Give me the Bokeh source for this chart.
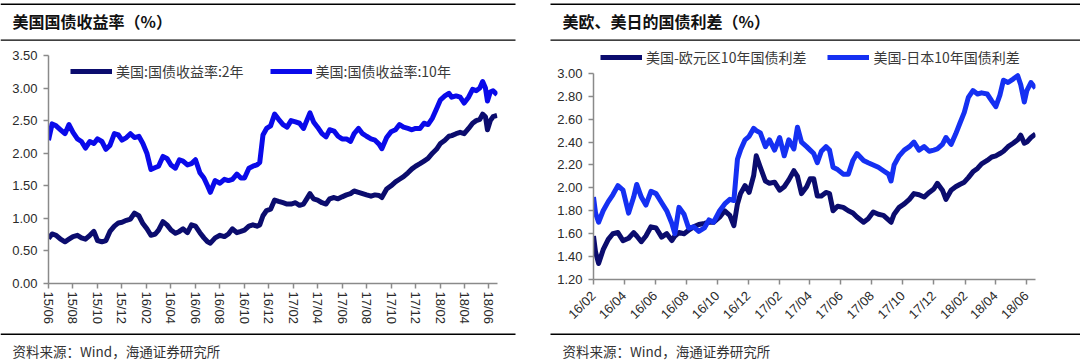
from datetime import datetime
from bokeh.plotting import figure
from bokeh.models import (ColumnDataSource, Range1d, FixedTicker, DatetimeTickFormatter,
                          NumeralTickFormatter)
from bokeh.core.properties import value
from bokeh.layouts import row, column
from bokeh.embed import file_html
from bokeh.resources import INLINE

CJK = "Noto Sans CJK SC"
NUM = "Liberation Sans"

# ---------------- left panel data: US Treasury yields ----------------
left_title = "美国国债收益率（%）"
left_names = ["美国:国债收益率:2年", "美国:国债收益率:10年"]
left_dates = [
    "2015-06-01", "2015-06-10", "2015-06-20", "2015-07-01", "2015-07-12", "2015-07-22",
    "2015-08-01", "2015-08-12", "2015-08-22", "2015-09-01", "2015-09-12", "2015-09-22",
    "2015-10-01", "2015-10-12", "2015-10-22", "2015-11-01", "2015-11-12", "2015-11-22",
    "2015-12-01", "2015-12-12", "2015-12-22", "2016-01-01", "2016-01-12", "2016-01-22",
    "2016-02-01", "2016-02-11", "2016-02-22", "2016-03-01", "2016-03-12", "2016-03-22",
    "2016-04-01", "2016-04-12", "2016-04-22", "2016-05-01", "2016-05-12", "2016-05-22",
    "2016-06-01", "2016-06-12", "2016-06-22", "2016-07-01", "2016-07-08", "2016-07-20",
    "2016-08-01", "2016-08-12", "2016-08-22", "2016-09-01", "2016-09-12", "2016-09-22",
    "2016-10-01", "2016-10-12", "2016-10-22", "2016-11-01", "2016-11-08", "2016-11-16",
    "2016-11-25", "2016-12-05", "2016-12-15", "2016-12-25", "2017-01-05", "2017-01-15",
    "2017-01-25", "2017-02-05", "2017-02-15", "2017-02-25", "2017-03-05", "2017-03-13",
    "2017-03-22", "2017-04-01", "2017-04-12", "2017-04-22", "2017-05-01", "2017-05-12",
    "2017-05-22", "2017-06-01", "2017-06-12", "2017-06-22", "2017-07-01", "2017-07-12",
    "2017-07-22", "2017-08-01", "2017-08-12", "2017-08-22", "2017-09-01", "2017-09-08",
    "2017-09-20", "2017-10-01", "2017-10-12", "2017-10-22", "2017-11-01", "2017-11-12",
    "2017-11-22", "2017-12-01", "2017-12-12", "2017-12-22", "2018-01-01", "2018-01-12",
    "2018-01-22", "2018-02-01", "2018-02-12", "2018-02-22", "2018-03-01", "2018-03-12",
    "2018-03-22", "2018-04-01", "2018-04-12", "2018-04-22", "2018-05-01", "2018-05-10",
    "2018-05-17", "2018-05-24", "2018-05-29", "2018-06-05", "2018-06-12", "2018-06-22",
]
us_2y = [
    0.69, 0.76, 0.74, 0.68, 0.64, 0.68, 0.72, 0.74, 0.70, 0.68, 0.74, 0.80,
    0.66, 0.64, 0.66, 0.80, 0.88, 0.93, 0.94, 0.97, 0.99, 1.08, 1.04, 0.92,
    0.84, 0.74, 0.76, 0.82, 0.95, 0.90, 0.82, 0.77, 0.80, 0.84, 0.78, 0.90,
    0.88, 0.78, 0.70, 0.64, 0.62, 0.70, 0.74, 0.72, 0.76, 0.84, 0.78, 0.80,
    0.82, 0.88, 0.90, 0.88, 0.90, 1.04, 1.12, 1.14, 1.28, 1.26, 1.24, 1.22,
    1.22, 1.24, 1.20, 1.22, 1.30, 1.38, 1.30, 1.28, 1.24, 1.22, 1.30, 1.32,
    1.30, 1.33, 1.36, 1.38, 1.42, 1.40, 1.38, 1.36, 1.34, 1.36, 1.35, 1.32,
    1.45, 1.50, 1.56, 1.60, 1.64, 1.70, 1.76, 1.80, 1.84, 1.88, 1.92, 2.00,
    2.06, 2.15, 2.20, 2.26, 2.27, 2.30, 2.32, 2.30, 2.38, 2.46, 2.50, 2.52,
    2.60, 2.56, 2.36, 2.50, 2.56, 2.58,
]
us_10y = [
    2.20, 2.45, 2.42, 2.36, 2.30, 2.44, 2.32, 2.22, 2.18, 2.08, 2.18, 2.15,
    2.22, 2.18, 2.06, 2.12, 2.30, 2.28, 2.20, 2.24, 2.30, 2.24, 2.26, 2.15,
    2.00, 1.75, 1.78, 1.80, 1.95, 1.92, 1.82, 1.77, 1.90, 1.88, 1.82, 1.84,
    1.90, 1.70, 1.62, 1.50, 1.40, 1.58, 1.54, 1.60, 1.58, 1.60, 1.68, 1.62,
    1.62, 1.77, 1.80, 1.82, 1.86, 2.28, 2.38, 2.42, 2.60, 2.52, 2.44, 2.40,
    2.50, 2.48, 2.46, 2.38, 2.50, 2.62, 2.48, 2.40, 2.30, 2.25, 2.36, 2.34,
    2.26, 2.22, 2.22, 2.18, 2.30, 2.38, 2.30, 2.26, 2.22, 2.20, 2.14, 2.07,
    2.24, 2.33, 2.36, 2.44, 2.40, 2.38, 2.36, 2.38, 2.38, 2.46, 2.44, 2.54,
    2.68, 2.82, 2.88, 2.92, 2.86, 2.88, 2.86, 2.77, 2.86, 2.98, 2.96, 3.00,
    3.10, 3.00, 2.80, 2.94, 2.96, 2.90,
]
left_ticks = ["15/06", "15/08", "15/10", "15/12", "16/02", "16/04", "16/06", "16/08",
              "16/10", "16/12", "17/02", "17/04", "17/06", "17/08", "17/10", "17/12",
              "18/02", "18/04", "18/06"]
left_yticks = [0.0, 0.5, 1.0, 1.5, 2.0, 2.5, 3.0, 3.5]

# ---------------- right panel data: spreads ----------------
right_title = "美欧、美日的国债利差（%）"
right_names = ["美国-欧元区10年国债利差", "美国-日本10年国债利差"]
right_dates = [
    "2016-02-01", "2016-02-05", "2016-02-11", "2016-02-20", "2016-03-01", "2016-03-10",
    "2016-03-20", "2016-03-30", "2016-04-10", "2016-04-20", "2016-04-26", "2016-05-05",
    "2016-05-14", "2016-05-24", "2016-06-03", "2016-06-14", "2016-06-24", "2016-07-04",
    "2016-07-10", "2016-07-18", "2016-07-28", "2016-08-06", "2016-08-16", "2016-08-26",
    "2016-09-06", "2016-09-15", "2016-09-24", "2016-10-06", "2016-10-16", "2016-10-26",
    "2016-11-03", "2016-11-10", "2016-11-16", "2016-11-25", "2016-12-03", "2016-12-12",
    "2016-12-17", "2016-12-25", "2017-01-04", "2017-01-12", "2017-01-22", "2017-02-01",
    "2017-02-10", "2017-02-19", "2017-03-01", "2017-03-08", "2017-03-16", "2017-03-26",
    "2017-04-02", "2017-04-09", "2017-04-16", "2017-04-24", "2017-05-03", "2017-05-10",
    "2017-05-17", "2017-05-26", "2017-06-06", "2017-06-16", "2017-06-25", "2017-07-03",
    "2017-07-16", "2017-07-25", "2017-08-04", "2017-08-14", "2017-08-24", "2017-09-03",
    "2017-09-08", "2017-09-14", "2017-09-24", "2017-10-04", "2017-10-14", "2017-10-23",
    "2017-11-02", "2017-11-12", "2017-11-22", "2017-12-01", "2017-12-08", "2017-12-18",
    "2017-12-25", "2018-01-04", "2018-01-13", "2018-01-21", "2018-01-30", "2018-02-07",
    "2018-02-16", "2018-02-25", "2018-03-05", "2018-03-16", "2018-03-25", "2018-04-02",
    "2018-04-10", "2018-04-17", "2018-04-26", "2018-05-06", "2018-05-15", "2018-05-21",
    "2018-05-28", "2018-06-02", "2018-06-10", "2018-06-19",
]
spread_eu = [
    1.58, 1.44, 1.34, 1.46, 1.55, 1.60, 1.61, 1.54, 1.56, 1.61, 1.58, 1.53,
    1.58, 1.66, 1.65, 1.57, 1.60, 1.54, 1.58, 1.61, 1.60, 1.63, 1.66, 1.68,
    1.69, 1.70, 1.70, 1.745, 1.80, 1.76, 1.67, 1.86, 1.95, 2.02, 1.96, 2.11,
    2.28, 2.18, 2.06, 2.04, 2.05, 1.98, 2.01, 2.07, 2.15, 2.10, 1.95, 2.01,
    2.08, 2.08, 1.93, 1.93, 1.96, 1.95, 1.80, 1.84, 1.83, 1.80, 1.78, 1.745,
    1.70, 1.73, 1.79, 1.77, 1.76, 1.72, 1.70, 1.77, 1.83, 1.86, 1.90, 1.95,
    1.94, 1.92, 1.96, 1.99, 2.04, 1.98, 1.90, 1.98, 2.01, 2.03, 2.05, 2.09,
    2.14, 2.17, 2.21, 2.24, 2.27, 2.28, 2.30, 2.32, 2.36, 2.39, 2.42, 2.46,
    2.39, 2.40, 2.44, 2.47,
]
spread_jp = [
    1.92, 1.78, 1.70, 1.80, 1.88, 1.94, 2.02, 1.98, 1.78, 1.92, 2.03, 1.92,
    1.85, 1.97, 1.95, 1.87, 1.80, 1.69, 1.60, 1.83, 1.77, 1.65, 1.66, 1.62,
    1.65, 1.72, 1.70, 1.80, 1.86, 1.90, 1.89, 2.25, 2.33, 2.42, 2.45, 2.52,
    2.50, 2.48, 2.36, 2.42, 2.33, 2.44, 2.28, 2.42, 2.34, 2.53, 2.40, 2.36,
    2.33, 2.30, 2.22, 2.32, 2.36, 2.33, 2.18, 2.16, 2.12, 2.12, 2.24, 2.30,
    2.24, 2.22, 2.20, 2.18, 2.15, 2.12, 2.06, 2.20, 2.28, 2.33, 2.36, 2.40,
    2.33, 2.36, 2.32, 2.33, 2.34, 2.38, 2.44, 2.38, 2.47, 2.56, 2.66, 2.79,
    2.85, 2.82, 2.83, 2.82, 2.76, 2.71, 2.81, 2.94, 2.92, 2.95, 2.98, 2.90,
    2.75, 2.85, 2.92, 2.87,
]
right_ticks = ["16/02", "16/04", "16/06", "16/08", "16/10", "16/12", "17/02", "17/04",
               "17/06", "17/08", "17/10", "17/12", "18/02", "18/04", "18/06"]
right_yticks = [1.2, 1.4, 1.6, 1.8, 2.0, 2.2, 2.4, 2.6, 2.8, 3.0]

source_text = "资料来源：Wind，海通证券研究所"

NAVY = "#0b0c6e"
BLUE_L = "#0a0aea"
BLUE_R = "#1530f2"
EPOCH = datetime(1970, 1, 1)
W = 540
HEAD_H, CHART_H, FOOT_H = 47, 283, 33


def to_dt(s):
    return datetime.strptime(s, "%Y-%m-%d")


def tick_ms(lbl):
    yy, mm = lbl.split("/")
    return (datetime(2000 + int(yy), int(mm), 1) - EPOCH).total_seconds() * 1000.0


def deco(height):
    """A plain strip (no axes) whose ranges are in pixels, y pointing down."""
    d = figure(width=W, height=height, x_range=Range1d(0, W), y_range=Range1d(height, 0),
               output_backend="svg", toolbar_location=None, min_border=0,
               x_axis_location=None, y_axis_location=None, frame_align=False)
    d.outline_line_color = None
    d.grid.visible = False
    return d


def header(title, tx, rx0, rx1):
    h = deco(HEAD_H)
    h.quad(left=[rx0], right=[rx1], top=[3], bottom=[4.6], color="#000000", line_alpha=0)
    h.quad(left=[rx0], right=[rx1], top=[39], bottom=[40.2], color="#000000", line_alpha=0)
    h.text(x=[tx], y=[20.5], text=[title], text_font=value(CJK), text_font_size="16px",
           text_font_style="bold", text_color="#111111", text_baseline="middle",
           text_align="left")
    return h


def footer(tx, rx0, rx1):
    f = deco(FOOT_H)
    f.quad(left=[rx0], right=[rx1], top=[3], bottom=[4.4], color="#000000", line_alpha=0)
    f.text(x=[tx], y=[20], text=[source_text], text_font=value(CJK), text_font_size="13.5px",
           text_color="#333333", text_baseline="middle", text_align="left")
    return f


def chart(dates, s1, s2, names, colors, ticks, yticks, yr, ybounds, xr, borders, orient,
          xstandoff, legend_loc, legend_spacing):
    left_b, right_b, top_b, bottom_b = borders
    p = figure(width=W, height=CHART_H, x_axis_type="datetime",
               x_range=Range1d(to_dt(xr[0]), to_dt(xr[1])), y_range=Range1d(*yr),
               output_backend="svg", toolbar_location=None, frame_align=False,
               min_border_left=left_b, min_border_right=right_b,
               min_border_top=top_b, min_border_bottom=bottom_b)
    p.outline_line_color = None
    p.grid.visible = False
    src = ColumnDataSource(dict(x=[to_dt(d) for d in dates], a=s1, b=s2))
    p.line("x", "a", source=src, line_width=5, color=colors[0], line_join="round",
           legend_label=names[0])
    p.line("x", "b", source=src, line_width=5, color=colors[1], line_join="round",
           legend_label=names[1])

    tick_vals = [tick_ms(t) for t in ticks]
    p.xaxis.ticker = FixedTicker(ticks=tick_vals)
    p.xaxis.formatter = DatetimeTickFormatter(days="%y/%m", months="%y/%m", years="%y/%m")
    p.xaxis.major_label_overrides = {v: t for v, t in zip(tick_vals, ticks)}
    p.xaxis.major_label_orientation = orient
    p.yaxis.ticker = FixedTicker(ticks=yticks)
    p.yaxis.formatter = NumeralTickFormatter(format="0.00")
    p.yaxis.bounds = ybounds
    for ax in (p.xaxis[0], p.yaxis[0]):
        ax.axis_line_color = "#8a8a8a"
        ax.axis_line_width = 1.5
        ax.major_tick_line_color = "#8a8a8a"
        ax.major_tick_line_width = 1.5
        ax.major_tick_in = 0
        ax.major_tick_out = 5
        ax.minor_tick_line_color = None
        ax.major_label_text_font = NUM
        ax.major_label_text_font_size = "13px"
        ax.major_label_text_color = "#2a2a2a"
    p.xaxis.major_label_standoff = xstandoff
    p.yaxis.major_label_standoff = 6

    lg = p.legend[0]
    lg.orientation = "horizontal"
    lg.location = legend_loc
    lg.margin = 0
    lg.padding = 0
    lg.spacing = legend_spacing
    lg.glyph_width = 42
    lg.glyph_height = 14
    lg.label_height = 14
    lg.label_standoff = 4
    lg.border_line_color = None
    lg.background_fill_alpha = 0
    lg.label_text_font = CJK
    lg.label_text_font_size = "14px"
    lg.label_text_color = "#3a3a3a"
    return p


p1 = chart(left_dates, us_2y, us_10y, left_names, [NAVY, BLUE_L], left_ticks, left_yticks,
           (0, 3.5), (0, 3.5), ("2015-06-01", "2018-06-23"), (48, 43, 8, 47), "vertical",
           3, (22, 202), 26)

# right frame spans page y 47..279; the axis itself is bounded to 1.20..3.00
p2 = chart(right_dates, spread_eu, spread_jp, right_names, [NAVY, BLUE_R], right_ticks,
           right_yticks, (1.2, 3.226), (1.2, 3.0), ("2016-02-01", "2018-06-19"),
           (53, 45, 0, 51), 0.785398, 9, (7, 212), 21)

left_col = column(header(left_title, 12, 0, 515), p1, footer(12, 0, 515))
right_col = column(header(right_title, 22, 10, W), p2, footer(22, 10, W))
layout = row(left_col, right_col)
open("out.html", "w").write(file_html(layout, INLINE))
